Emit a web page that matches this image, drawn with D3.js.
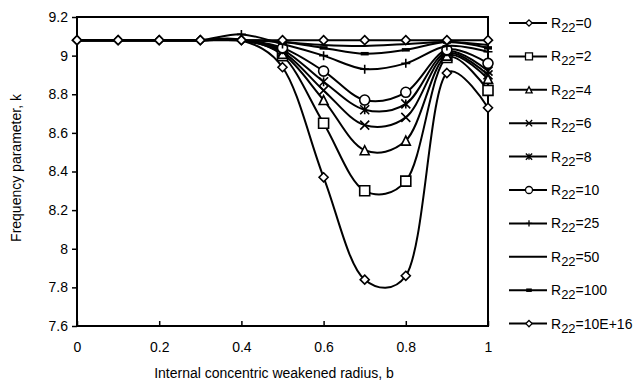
<!DOCTYPE html>
<html>
<head>
<meta charset="utf-8">
<script src="https://cdn.jsdelivr.net/npm/d3@7/dist/d3.min.js"></script>
<style>
  body { margin: 0; background: #fff; }
  text { font-family: 'Liberation Sans', Arial, sans-serif; font-size: 14px; fill: #000; }
</style>
</head>
<body>
<div id="chart"></div>
<script>
/**
 * Data
 */
var bValues = [ 0, 0.1, 0.2, 0.3, 0.4, 0.5, 0.6, 0.7, 0.8, 0.9, 1 ];

var r0    = [ 9.08, 9.08, 9.08, 9.08, 9.08, 8.94, 8.37, 7.84, 7.86, 8.91, 8.73 ];
var r2    = [ 9.08, 9.08, 9.08, 9.08, 9.08, 9.00, 8.65, 8.30, 8.35, 8.99, 8.82 ];
var r4    = [ 9.08, 9.08, 9.08, 9.08, 9.08, 9.01, 8.77, 8.51, 8.56, 9.00, 8.88 ];
var r6    = [ 9.08, 9.08, 9.08, 9.08, 9.08, 9.02, 8.82, 8.64, 8.68, 9.01, 8.90 ];
var r8    = [ 9.08, 9.08, 9.08, 9.08, 9.08, 9.03, 8.865, 8.72, 8.75, 9.02, 8.92 ];
var r10   = [ 9.08, 9.08, 9.08, 9.08, 9.08, 9.04, 8.92, 8.77, 8.81, 9.03, 8.96 ];
var r25   = [ 9.08, 9.08, 9.08, 9.08, 9.11, 9.06, 9.00, 8.93, 8.96, 9.05, 9.02 ];
var r50   = [ 9.08, 9.08, 9.08, 9.08, 9.08, 9.07, 9.055, 9.05, 9.06, 9.07, 9.055 ];
var r100  = [ 9.08, 9.08, 9.08, 9.08, 9.08, 9.07, 9.04, 9.01, 9.03, 9.07, 9.04 ];
var rInf  = [ 9.08, 9.08, 9.08, 9.08, 9.08, 9.08, 9.08, 9.08, 9.08, 9.08, 9.08 ];

var seriesLabels = [ '0', '2', '4', '6', '8', '10', '25', '50', '100', '10E+16' ];
var seriesValues = [ r0, r2, r4, r6, r8, r10, r25, r50, r100, rInf ];

var xTicks = [ 0, 0.2, 0.4, 0.6, 0.8, 1 ];
var yTicks = [ 7.6, 7.8, 8, 8.2, 8.4, 8.6, 8.8, 9, 9.2 ];

// marker style per series (same order as the labels)
var markerTypes = [ 'diamond', 'square', 'triangle', 'cross', 'asterisk', 'circle', 'plus', 'none', 'dash', 'diamond' ];
// first point that shows a marker (markers on the shared flat part are not shown in the original)
var markerStart = [ 0, 5, 5, 5, 5, 5, 4, 5, 5, 0 ];

/**
 * Vars
 */
var width = 635,
    height = 386,
    plot = { left: 77, right: 488, top: 17, bottom: 326 };

var x = d3.scaleLinear().domain([ 0, 1 ]).range([ plot.left, plot.right ]);
var y = d3.scaleLinear().domain([ 7.6, 9.2 ]).range([ plot.bottom, plot.top ]);

// marker shapes, centred on 0,0
var markerPath = function(type, s) {
  var h = s / 2;
  switch( type ) {
    case 'diamond':  return 'M0,' + (-h) + 'L' + h + ',0L0,' + h + 'L' + (-h) + ',0Z';
    case 'square':   return 'M' + (-h) + ',' + (-h) + 'h' + s + 'v' + s + 'h' + (-s) + 'Z';
    case 'triangle': return 'M0,' + (-h) + 'L' + h + ',' + h + 'L' + (-h) + ',' + h + 'Z';
    case 'circle':   return 'M' + h + ',0A' + h + ',' + h + ' 0 1,1 ' + (-h) + ',0A' + h + ',' + h + ' 0 1,1 ' + h + ',0Z';
    case 'cross':    return 'M' + (-h) + ',' + (-h) + 'L' + h + ',' + h + 'M' + (-h) + ',' + h + 'L' + h + ',' + (-h);
    case 'asterisk': return 'M' + (-h) + ',' + (-h) + 'L' + h + ',' + h + 'M' + (-h) + ',' + h + 'L' + h + ',' + (-h) + 'M0,' + (-h) + 'V' + h;
    case 'plus':     return 'M' + (-h) + ',0H' + h + 'M0,' + (-h) + 'V' + h;
    case 'dash':     return 'M' + (-h) + ',0H' + h;
    default:         return '';
  }
};

var markerSize = { diamond: 9, square: 10, triangle: 9, circle: 10, cross: 9, asterisk: 9, plus: 9, dash: 8, none: 0 };
var closedShape = function(t) { return t === 'diamond' || t === 'square' || t === 'triangle' || t === 'circle'; };

/**
 * SVG
 */
var svg = d3.select( '#chart' ).append( 'svg' )
  .attr( 'width', width )
  .attr( 'height', height );

/**
 * Axes + frame
 */
svg.append( 'g' )
  .attr( 'transform', 'translate(' + plot.left + ',0)' )
  .call( d3.axisLeft(y).tickValues(yTicks).tickSize(5).tickPadding(4).tickFormat(d3.format('~g')) )
  .call( function(g) {
    g.select( '.domain' ).remove();
    g.selectAll( 'line' ).attr( 'stroke', '#000' ).attr( 'stroke-width', 1.5 );
    g.selectAll( 'text' ).style( 'font-size', '14px' ).attr( 'font-family', null );
  });

svg.append( 'g' )
  .attr( 'transform', 'translate(0,' + plot.bottom + ')' )
  .call( d3.axisBottom(x).tickValues(xTicks).tickSize(-5).tickPadding(16).tickFormat(d3.format('~g')) )
  .call( function(g) {
    g.select( '.domain' ).remove();
    g.selectAll( 'line' ).attr( 'stroke', '#000' ).attr( 'stroke-width', 1.5 );
    g.selectAll( 'text' ).style( 'font-size', '14px' ).attr( 'font-family', null );
  });

svg.append( 'rect' )
  .attr( 'x', plot.left )
  .attr( 'y', plot.top )
  .attr( 'width', plot.right - plot.left )
  .attr( 'height', plot.bottom - plot.top )
  .attr( 'fill', 'none' )
  .attr( 'stroke', '#000' )
  .attr( 'stroke-width', 2 );

/**
 * Series lines (smoothed like the original spreadsheet chart)
 */
var line = d3.line()
  .x( function(d, i) { return x(bValues[i]); })
  .y( function(d) { return y(d); })
  .curve( d3.curveCatmullRom.alpha(0.3) );

var sets = svg.selectAll( '.series' ).data( seriesValues )
  .enter().append( 'g' )
    .attr( 'class', 'series' );

sets.append( 'path' )
  .attr( 'd', function(d) { return line(d); })
  .attr( 'fill', 'none' )
  .attr( 'stroke', '#000' )
  .attr( 'stroke-width', 2 );

sets.each( function(vals, k) {
  var t = markerTypes[k];
  if( t === 'none' ) { return; }
  var pts = vals.map( function(v, i) { return { b: bValues[i], v: v }; })
    .filter( function(p, i) { return i >= markerStart[k]; });
  d3.select( this ).selectAll( '.dot' ).data( pts )
    .enter().append( 'path' )
      .attr( 'class', 'dot' )
      .attr( 'transform', function(d) { return 'translate(' + x(d.b) + ',' + y(d.v) + ')'; })
      .attr( 'd', markerPath(t, markerSize[t]) )
      .attr( 'fill', closedShape(t) ? '#fff' : 'none' )
      .attr( 'stroke', '#000' )
      .attr( 'stroke-width', t === 'dash' ? 3.5 : 1.6 );
});

/**
 * Legend
 */
var legend = svg.selectAll( '.legend' ).data( seriesLabels )
  .enter().append( 'g' )
    .attr( 'class', 'legend' )
    .attr( 'transform', function(d, i) { return 'translate(0,' + (23 + i * 33.4) + ')'; });

legend.append( 'line' )
  .attr( 'x1', 509 )
  .attr( 'x2', 547 )
  .attr( 'stroke', '#000' )
  .attr( 'stroke-width', 2 );

legend.append( 'path' )
  .attr( 'transform', 'translate(529,0)' )
  .attr( 'd', function(d, i) { var t = markerTypes[i]; return markerPath(t, markerSize[t] * 0.7); })
  .attr( 'fill', function(d, i) { return closedShape(markerTypes[i]) ? '#fff' : 'none'; })
  .attr( 'stroke', '#000' )
  .attr( 'stroke-width', function(d, i) { return markerTypes[i] === 'dash' ? 3.5 : 1.3; });

var ltext = legend.append( 'text' )
  .attr( 'x', 551 )
  .attr( 'y', 5 );
ltext.append( 'tspan' ).text( 'R' );
ltext.append( 'tspan' ).attr( 'dy', 4 ).style( 'font-size', '13px' ).text( '22' );
ltext.append( 'tspan' ).attr( 'dy', -4 ).text( function(d) { return '=' + d; });

/**
 * Axis titles
 */
svg.append( 'text' )
  .attr( 'x', 274 )
  .attr( 'y', 378 )
  .attr( 'text-anchor', 'middle' )
  .text( 'Internal concentric weakened radius, b' );

svg.append( 'text' )
  .attr( 'transform', 'translate(21,168)rotate(-90)' )
  .attr( 'text-anchor', 'middle' )
  .text( 'Frequency parameter, k' );
</script>
</body>
</html>
